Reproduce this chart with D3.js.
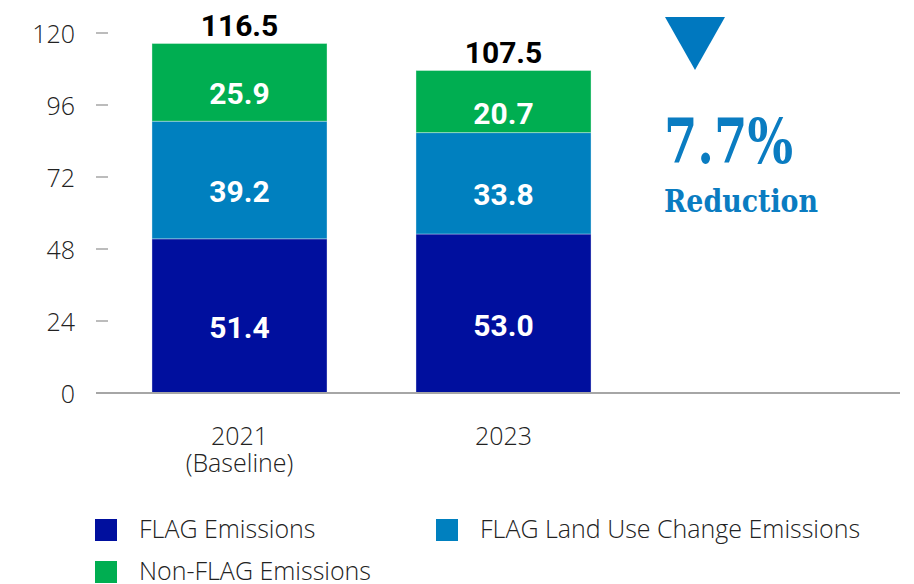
<!DOCTYPE html>
<html><head><meta charset="utf-8">
<script src="https://cdn.jsdelivr.net/npm/d3@7"></script>
<style>
html,body{margin:0;padding:0;background:#fff;}
svg{display:block;}
</style></head>
<body>
<svg id="chart" width="914" height="584"></svg>
<script>
const categories = ["2021", "2023"];
const categorySubLabels = ["(Baseline)", ""];
const flagEmissions = [51.4, 53.0];
const landUseChange = [39.2, 33.8];
const nonFlag = [25.9, 20.7];
const totals = [116.5, 107.5];
const yTicks = [0, 24, 48, 72, 96, 120];
const seriesNames = ["FLAG Emissions", "FLAG Land Use Change Emissions", "Non-FLAG Emissions"];
const seriesKeys = ["flag", "luc", "nonflag"];
const reductionText = "7.7%";
const reductionLabel = "Reduction";

const colors = {flag: "#000F9E", luc: "#0080BF", nonflag: "#00AE51"};

const rows = categories.map((c, i) => ({cat: c, flag: flagEmissions[i], luc: landUseChange[i], nonflag: nonFlag[i]}));
const stack = d3.stack().keys(seriesKeys)(rows);

const svg = d3.select("#chart");
const y = d3.scaleLinear().domain([0, 120]).range([393, 33]);
const x = d3.scaleBand().domain(categories).range([96, 647]).paddingInner(0.337).paddingOuter(0.212);

// y tick labels and ticks
const yAxis = svg.append("g");
yTicks.forEach(t => {
  yAxis.append("text").attr("x", 75).attr("y", y(t)).attr("dy", "0.38em")
    .attr("text-anchor", "end").attr("font-family", "Open Sans").attr("font-weight", 300)
    .attr("font-size", 25).attr("fill", "#222").text(t);
  if (t !== 0) yAxis.append("line").attr("x1", 96).attr("x2", 108).attr("y1", y(t)).attr("y2", y(t))
    .attr("stroke", "#A6A6A6").attr("stroke-width", 1.5);
});

// bars
stack.forEach(layer => {
  const g = svg.append("g");
  layer.forEach((d, i) => {
    g.append("rect").attr("x", x(d.data.cat)).attr("width", x.bandwidth())
      .attr("y", y(d[1])).attr("height", y(d[0]) - y(d[1]))
      .attr("fill", colors[layer.key]).attr("stroke", "#ffffff").attr("stroke-opacity", 0.35).attr("stroke-width", 1);
    g.append("text").attr("x", x(d.data.cat) + x.bandwidth() / 2)
      .attr("y", (y(d[0]) + y(d[1])) / 2 + 22)
      .attr("text-anchor", "middle").attr("font-family", "Roboto").attr("font-weight", 700)
      .attr("font-size", 30).attr("fill", "#fff").text((d[1] - d[0]).toFixed(1));
  });
});

// totals
categories.forEach((c, i) => {
  svg.append("text").attr("x", x(c) + x.bandwidth() / 2).attr("y", y(totals[i]) - 8)
    .attr("text-anchor", "middle").attr("font-family", "Roboto").attr("font-weight", 700)
    .attr("font-size", 30).attr("fill", "#000").text(totals[i].toFixed(1));
});

// x axis line
svg.append("line").attr("x1", 96).attr("x2", 900).attr("y1", y(0)).attr("y2", y(0))
  .attr("stroke", "#A6A6A6").attr("stroke-width", 2);

// x labels
categories.forEach((c, i) => {
  const cx = x(c) + x.bandwidth() / 2;
  svg.append("text").attr("x", cx).attr("y", 445).attr("text-anchor", "middle")
    .attr("font-family", "Open Sans").attr("font-weight", 300).attr("font-size", 25).attr("fill", "#222").text(c);
  if (categorySubLabels[i]) svg.append("text").attr("x", cx).attr("y", 472).attr("text-anchor", "middle")
    .attr("font-family", "Open Sans").attr("font-weight", 300).attr("font-size", 25).attr("fill", "#222").text(categorySubLabels[i]);
});

// reduction callout
svg.append("path").attr("d", d3.line()([[665, 17], [725, 17], [695, 70]]) + "Z").attr("fill", "#0078BF");
svg.append("text").attr("x", 664).attr("y", 163).attr("font-family", "DejaVu Serif").attr("font-weight", 700)
  .attr("font-size", 62).attr("fill", "#0A7CC1").attr("textLength", 129).attr("lengthAdjust", "spacingAndGlyphs").text(reductionText);
svg.append("text").attr("x", 664).attr("y", 212).attr("font-family", "DejaVu Serif").attr("font-weight", 700)
  .attr("font-size", 32).attr("fill", "#0A7CC1").attr("textLength", 154).attr("lengthAdjust", "spacingAndGlyphs").text(reductionLabel);

// legend
const legendPos = [[95, 519], [436, 519], [95, 561]];
seriesKeys.forEach((k, i) => {
  const [lx, ly] = legendPos[i];
  svg.append("rect").attr("x", lx).attr("y", ly).attr("width", 22).attr("height", 22).attr("fill", colors[k]);
  svg.append("text").attr("x", lx + 44).attr("y", ly + 19).attr("font-family", "Open Sans").attr("font-weight", 300)
    .attr("font-size", 25).attr("fill", "#222").text(seriesNames[i]);
});
</script>
</body></html>
